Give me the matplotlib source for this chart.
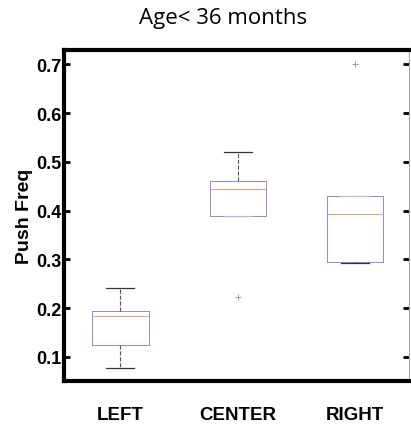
import matplotlib.pyplot as plt

# box summary values
groups = ["LEFT", "CENTER", "RIGHT"]
q1 = [0.125, 0.388, 0.294]
med = [0.183, 0.445, 0.394]
q3 = [0.195, 0.460, 0.429]
whislo = [0.076, 0.388, 0.292]
whishi = [0.242, 0.521, 0.429]
fliers = [[], [0.222], [0.700]]
yticks = [0.1, 0.2, 0.3, 0.4, 0.5, 0.6, 0.7]

stats = []
for i, name in enumerate(groups):
    stats.append({
        "label": name,
        "q1": q1[i], "med": med[i], "q3": q3[i],
        "whislo": whislo[i], "whishi": whishi[i],
        "fliers": fliers[i],
    })

fig = plt.figure(figsize=(4.11, 4.27), dpi=100)
ax = fig.add_axes([0.156, 0.105, 0.839, 0.776])

parts = ax.bxp(
    stats,
    positions=[1, 2, 3],
    widths=0.48,
    capwidths=0.24,
    boxprops=dict(color="#8a8ad8", linewidth=0.7),
    medianprops=dict(color="#f0a070", linewidth=0.8),
    whiskerprops=dict(color="#555555", linestyle="--", linewidth=0.8),
    capprops=dict(color="#333333", linewidth=0.9),
    flierprops=dict(marker="+", markeredgecolor="#999999", markersize=4, markeredgewidth=0.7),
)
# caps that sit on the box edge are barely visible in the original
for cap in (parts["caps"][2], parts["caps"][5]):
    cap.set_color("#bbbbdd")

ax.set_xlim(0.52, 3.46)
ax.set_ylim(0.05, 0.73)
ax.set_yticks(yticks)
ax.set_yticklabels([f"{v:.1f}" for v in yticks], fontsize=13, fontweight="bold",
                   family="Liberation Sans")
ax.set_xticks([1, 2, 3])
ax.set_xticklabels(groups, fontsize=13.5, fontweight="bold", family="Liberation Sans")
ax.tick_params(axis="x", length=0, pad=18)
ax.tick_params(axis="y", direction="in", length=4, width=2, pad=2,
               right=True, color="black")

for side in ["left", "top", "bottom"]:
    ax.spines[side].set_linewidth(3)
    ax.spines[side].set_color("black")
ax.spines["right"].set_linewidth(0.8)
ax.spines["right"].set_color("#aaaaaa")

ax.set_ylabel("Push Freq", fontsize=14, fontweight="bold", family="Liberation Sans",
              labelpad=2)
fig.text(0.543, 0.957, "Age< 36 months", fontsize=16, family="Open Sans",
         ha="center", va="center")

fig.savefig("out.png", dpi=100)
